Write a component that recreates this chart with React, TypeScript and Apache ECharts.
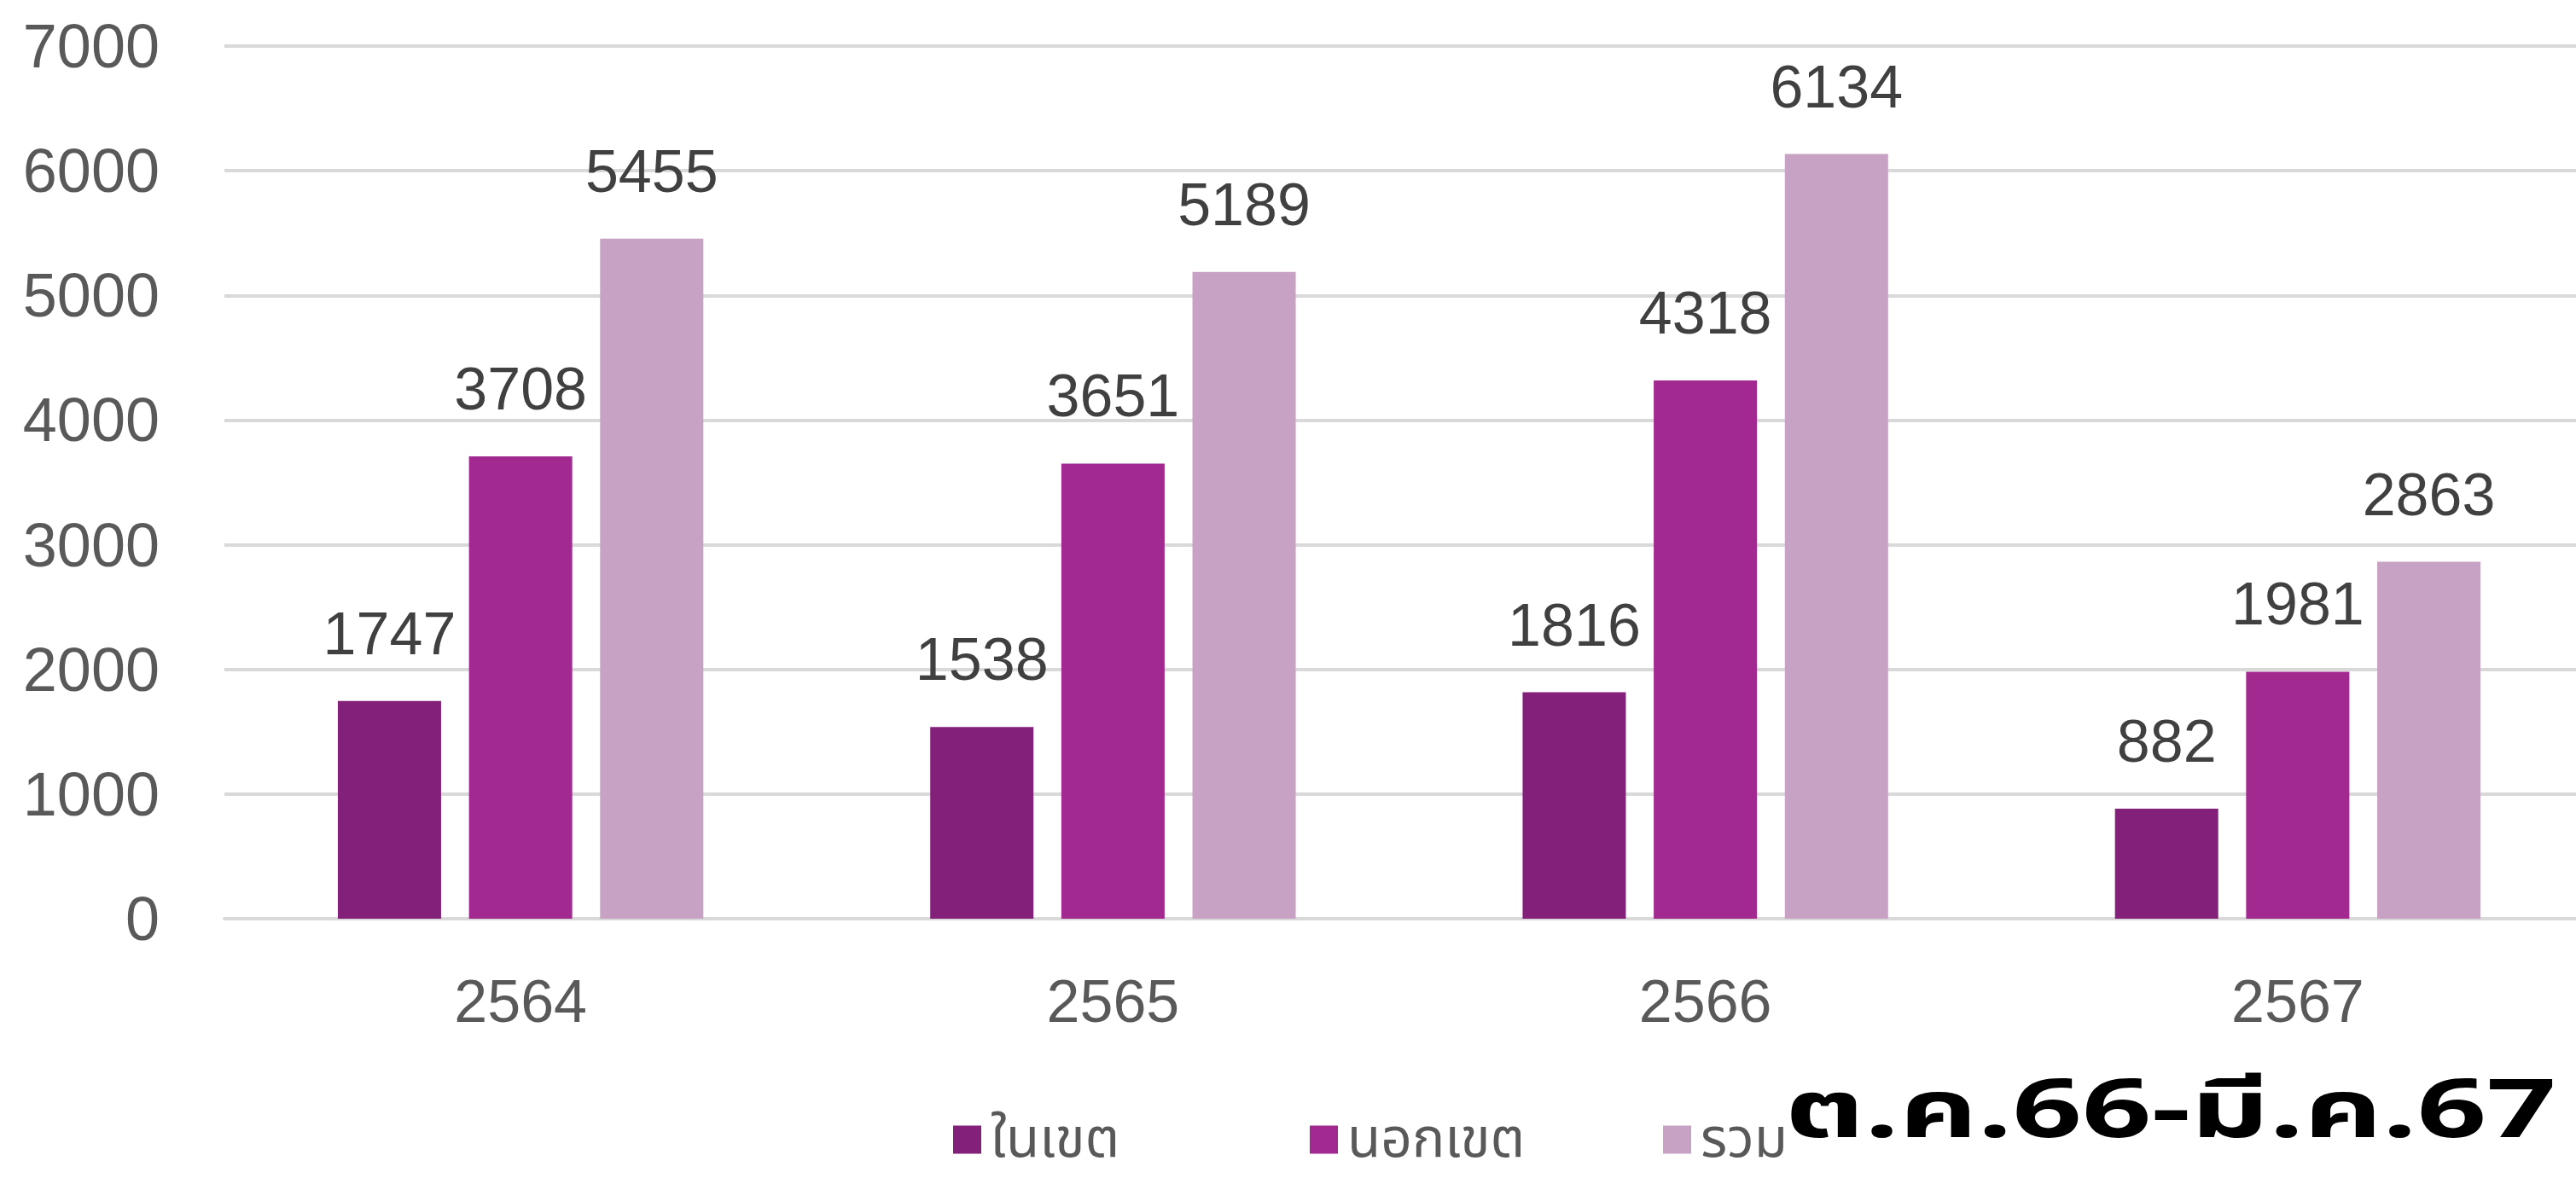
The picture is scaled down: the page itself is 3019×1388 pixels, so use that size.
import React, { useEffect, useRef } from "react";
import * as echarts from "echarts";

const categories = ["2564", "2565", "2566", "2567"];
const seriesNames = ["ในเขต", "นอกเขต", "รวม"];
const inZone = [1747, 1538, 1816, 882];
const outZone = [3708, 3651, 4318, 1981];
const total = [5455, 5189, 6134, 2863];
const yTicks = { min: 0, max: 7000, interval: 1000 };
const noteText = "ต.ค.66-มี.ค.67";

const colors = ["#832079", "#A2298F", "#C8A2C4"];
const legendLefts = [1117, 1535, 1949];
const thaiFont = '"Noto Sans Thai", Tahoma, "Leelawadee UI", "Noto Sans Thai Looped", "DejaVu Sans", sans-serif';
const numFont = '"Liberation Sans", Arial, sans-serif';

export default function App() {
  const ref = useRef<HTMLDivElement>(null);
  useEffect(() => {
    if (!ref.current) return;
    const chart = echarts.init(ref.current, undefined, { renderer: "svg" });
    const values = [inZone, outZone, total];
    chart.setOption({
      animation: false,
      backgroundColor: "#ffffff",
      grid: { left: 263, right: 0, top: 54, bottom: 311, containLabel: false },
      legend: seriesNames.map((name, i) => ({
        data: [name],
        left: legendLefts[i],
        top: 1304,
        padding: 0,
        icon: "rect",
        itemWidth: 33,
        itemHeight: 33,
        textStyle: {
          fontSize: 64,
          lineHeight: 58,
          color: "#595959",
          fontFamily: thaiFont,
          padding: [0, 0, 0, 6],
        },
      })),
      xAxis: {
        type: "category",
        data: categories,
        axisTick: { show: false },
        axisLine: { show: true, lineStyle: { color: "#d9d9d9", width: 4 } },
        axisLabel: { fontSize: 70, color: "#595959", fontFamily: numFont, margin: 62 },
      },
      yAxis: {
        type: "value",
        min: yTicks.min,
        max: yTicks.max,
        interval: yTicks.interval,
        axisLine: { show: false },
        axisTick: { show: false },
        splitLine: { lineStyle: { color: "#d9d9d9", width: 4 } },
        axisLabel: {
          fontSize: 72,
          color: "#595959",
          fontFamily: numFont,
          margin: 76,
          formatter: (v: number) => String(v),
        },
      },
      series: seriesNames.map((name, i) => ({
        name,
        type: "bar",
        data: values[i],
        barWidth: 121,
        barGap: "27%",
        itemStyle: { color: colors[i] },
        label: {
          show: true,
          position: "top",
          distance: 44,
          fontSize: 70,
          color: "#404040",
          fontFamily: numFont,
        },
      })),
      graphic: [
        {
          type: "text",
          x: 2092,
          y: 1304,
          scaleX: 1.5,
          style: {
            text: noteText,
            font: 'bold 95px ' + thaiFont,
            fill: "#000000",
            verticalAlign: "middle",
            align: "left",
          },
        },
      ],
    });
    return () => chart.dispose();
  }, []);
  return (
    <div style={{ position: "absolute", left: 0, top: 0, width: 3019, height: 1388, overflow: "hidden" }}>
      <div ref={ref} style={{ width: 3040, height: 1388 }} />
    </div>
  );
}
